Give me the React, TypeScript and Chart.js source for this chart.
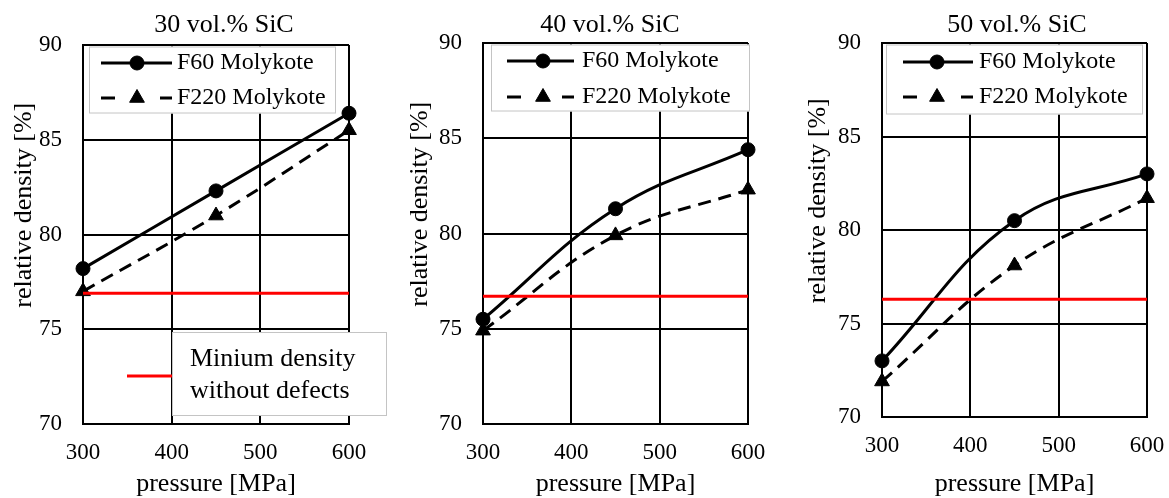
import React, { useEffect, useRef } from "react";
import { Chart, registerables } from "chart.js";

Chart.register(...registerables);

const FONT = "'Liberation Serif', 'Times New Roman', Times, serif";
Chart.defaults.font.family = FONT;
Chart.defaults.color = "#000";

// ---------- data ----------
const pressures = [300, 450, 600];
const xTicks = [300, 400, 500, 600];
const yTicks = [70, 75, 80, 85, 90];
const panelTitles = ["30 vol.% SiC", "40 vol.% SiC", "50 vol.% SiC"];
const seriesNames = ["F60 Molykote", "F220 Molykote"];
const f60_30 = [78.2, 82.3, 86.4];
const f220_30 = [77.0, 81.0, 85.5];
const f60_40 = [75.5, 81.3, 84.4];
const f220_40 = [74.9, 79.9, 82.3];
const f60_50 = [73.0, 80.5, 83.0];
const f220_50 = [71.9, 78.1, 81.7];
const minDensity = [76.9, 76.7, 76.3];
const minDensityLabel = ["Minium density", "without defects"];
const xAxisTitle = "pressure [MPa]";
const yAxisTitle = "relative density [%]";

const panelF60 = [f60_30, f60_40, f60_50];
const panelF220 = [f220_30, f220_40, f220_50];

// ---------- layout (pixels) ----------
const H = 498;
const layouts = [
  {
    left: 0, width: 448, plotLeft: 83, plotRight: 349, plotTop: 45, plotBottom: 424,
    legend: { dx: 6, dy: 1.5, w: 247, h: 67, rows: [18, 53], x0: 18, x1: 89, xm: 54, tx: 94 },
    minLegend: true,
  },
  {
    left: 396, width: 428, plotLeft: 87, plotRight: 352, plotTop: 43, plotBottom: 424,
    legend: { dx: 8, dy: 1.5, w: 259, h: 67, rows: [18, 54], x0: 24, x1: 91, xm: 60, tx: 99 },
    minLegend: false,
  },
  {
    left: 794, width: 446, plotLeft: 88, plotRight: 353, plotTop: 43, plotBottom: 417,
    legend: { dx: 4, dy: 1.5, w: 257, h: 70, rows: [19, 54], x0: 21, x1: 91, xm: 55, tx: 97 },
    minLegend: false,
  },
];

function drawMarker(ctx: CanvasRenderingContext2D, style: string, x: number, y: number, r: number) {
  ctx.beginPath();
  if (style === "triangle") {
    let rad = 0;
    const step = (2 * Math.PI) / 3;
    ctx.moveTo(x + Math.sin(rad) * r, y - Math.cos(rad) * r);
    rad += step;
    ctx.lineTo(x + Math.sin(rad) * r, y - Math.cos(rad) * r);
    rad += step;
    ctx.lineTo(x + Math.sin(rad) * r, y - Math.cos(rad) * r);
    ctx.closePath();
  } else {
    ctx.arc(x, y, r, 0, Math.PI * 2);
  }
  ctx.fill();
  ctx.stroke();
}

function Panel({ idx }: { idx: number }) {
  const ref = useRef<HTMLCanvasElement>(null);
  const L = layouts[idx];

  useEffect(() => {
    if (!ref.current) return;
    const legendPlugin = {
      id: "panelLegend",
      afterDraw(chart: any) {
        const { ctx, chartArea: a } = chart;
        const g = L.legend;
        ctx.save();
        ctx.setLineDash([]);
        ctx.fillStyle = "#fff";
        ctx.fillRect(a.left + g.dx, a.top + g.dy, g.w, g.h);
        ctx.strokeStyle = "#c4c4c4";
        ctx.lineWidth = 1;
        ctx.strokeRect(a.left + g.dx + 0.5, a.top + g.dy + 0.5, g.w - 1, g.h - 1);
        const series = chart.data.datasets.filter((d: any) => d.pointRadius > 0);
        series.forEach((s: any, i: number) => {
          const y = a.top + g.rows[i];
          const x0 = a.left + g.x0;
          const x1 = a.left + g.x1;
          ctx.strokeStyle = "#000";
          ctx.lineWidth = 3;
          ctx.beginPath();
          if (s.borderDash && s.borderDash.length) {
            ctx.moveTo(x0, y);
            ctx.lineTo(x0 + 14, y);
            ctx.moveTo(x1 - 12, y);
            ctx.lineTo(x1, y);
          } else {
            ctx.moveTo(x0, y);
            ctx.lineTo(x1, y);
          }
          ctx.stroke();
          ctx.fillStyle = "#000";
          ctx.lineWidth = 1;
          drawMarker(ctx, s.pointStyle, a.left + g.xm, y, s.pointRadius);
          ctx.font = `24px ${FONT}`;
          ctx.textBaseline = "middle";
          ctx.textAlign = "left";
          ctx.fillText(s.label, a.left + g.tx, y);
        });
        if (L.minLegend) {
          const bx = a.left + 89;
          const by = a.top + 287;
          ctx.fillStyle = "#fff";
          ctx.fillRect(bx, by, 215, 84);
          ctx.strokeStyle = "#c4c4c4";
          ctx.lineWidth = 1;
          ctx.strokeRect(bx + 0.5, by + 0.5, 214, 83);
          ctx.strokeStyle = "#ff0000";
          ctx.lineWidth = 3;
          ctx.beginPath();
          ctx.moveTo(a.left + 44, a.top + 331);
          ctx.lineTo(bx, a.top + 331);
          ctx.stroke();
          ctx.fillStyle = "#000";
          ctx.font = `26px ${FONT}`;
          ctx.textBaseline = "middle";
          ctx.textAlign = "left";
          ctx.fillText(minDensityLabel[0], a.left + 107, a.top + 314);
          ctx.fillText(minDensityLabel[1], a.left + 107, a.top + 346);
        }
        ctx.restore();
      },
    };

    const tickFont = { family: FONT, size: 23 };
    const chart = new Chart(ref.current, {
      type: "line",
      data: {
        datasets: [
          {
            label: minDensityLabel.join(" "),
            data: [
              { x: xTicks[0], y: minDensity[idx] },
              { x: xTicks[xTicks.length - 1], y: minDensity[idx] },
            ],
            borderColor: "#ff0000",
            borderWidth: 3,
            pointRadius: 0,
            tension: 0,
            clip: false,
          },
          {
            label: seriesNames[0],
            data: pressures.map((x, i) => ({ x, y: panelF60[idx][i] })),
            borderColor: "#000",
            backgroundColor: "#000",
            borderWidth: 3,
            pointStyle: "circle",
            pointRadius: 7,
            pointBorderWidth: 1,
            tension: 0.4,
            clip: false,
          },
          {
            label: seriesNames[1],
            data: pressures.map((x, i) => ({ x, y: panelF220[idx][i] })),
            borderColor: "#000",
            backgroundColor: "#000",
            borderWidth: 3,
            borderDash: [13, 8],
            pointStyle: "triangle",
            pointRadius: 8.5,
            pointBorderWidth: 1,
            tension: 0.4,
            clip: false,
          },
        ],
      },
      options: {
        responsive: false,
        animation: false,
        devicePixelRatio: 1,
        layout: { padding: 0 },
        plugins: {
          legend: { display: false },
          tooltip: { enabled: false },
          title: {
            display: true,
            text: panelTitles[idx],
            color: "#000",
            fullSize: true,
            font: { family: FONT, size: 26, weight: "normal", lineHeight: 1.2 },
            padding: { top: 9.4, bottom: L.plotTop - 9.4 - 31.2 },
          },
        },
        scales: {
          x: {
            type: "linear",
            position: "bottom",
            min: xTicks[0],
            max: xTicks[xTicks.length - 1],
            afterBuildTicks: (s: any) => {
              s.ticks = xTicks.map((v) => ({ value: v }));
            },
            grid: { color: "#000", lineWidth: 2, drawTicks: false },
            border: { display: true, color: "#000", width: 2 },
            ticks: { color: "#000", font: tickFont, padding: 15, maxRotation: 0, autoSkip: false },
            title: {
              display: true,
              text: xAxisTitle,
              color: "#000",
              font: { family: FONT, size: 26, lineHeight: 1.1 },
              padding: 0,
            },
            afterFit: (s: any) => {
              s.height = H - L.plotBottom;
            },
          },
          y: {
            type: "linear",
            position: "left",
            min: yTicks[0],
            max: yTicks[yTicks.length - 1],
            afterBuildTicks: (s: any) => {
              s.ticks = yTicks.map((v) => ({ value: v }));
            },
            grid: { color: "#000", lineWidth: 2, drawTicks: false },
            border: { display: true, color: "#000", width: 2 },
            ticks: { color: "#000", font: tickFont, padding: 21, autoSkip: false },
            title: {
              display: true,
              text: " ".repeat(9) + yAxisTitle,
              color: "#000",
              font: { family: FONT, size: 26, lineHeight: 1.2 },
              padding: { top: 9, bottom: 0 },
            },
            afterFit: (s: any) => {
              s.width = L.plotLeft;
            },
          },
          y2: {
            type: "linear",
            position: "right",
            display: true,
            grid: { display: false },
            border: { display: false },
            ticks: { display: false },
            afterFit: (s: any) => {
              s.width = L.width - L.plotRight;
            },
          },
        },
      } as any,
      plugins: [legendPlugin],
    });
    return () => chart.destroy();
  }, [idx]);

  return (
    <canvas
      ref={ref}
      width={L.width}
      height={H}
      style={{ position: "absolute", left: L.left, top: 0, width: L.width, height: H }}
    />
  );
}

export default function App() {
  return (
    <div
      style={{
        position: "fixed",
        left: 0,
        top: 0,
        width: 1169,
        height: 498,
        overflow: "hidden",
        background: "#fff",
      }}
    >
      {layouts.map((_, i) => (
        <Panel key={i} idx={i} />
      ))}
    </div>
  );
}
